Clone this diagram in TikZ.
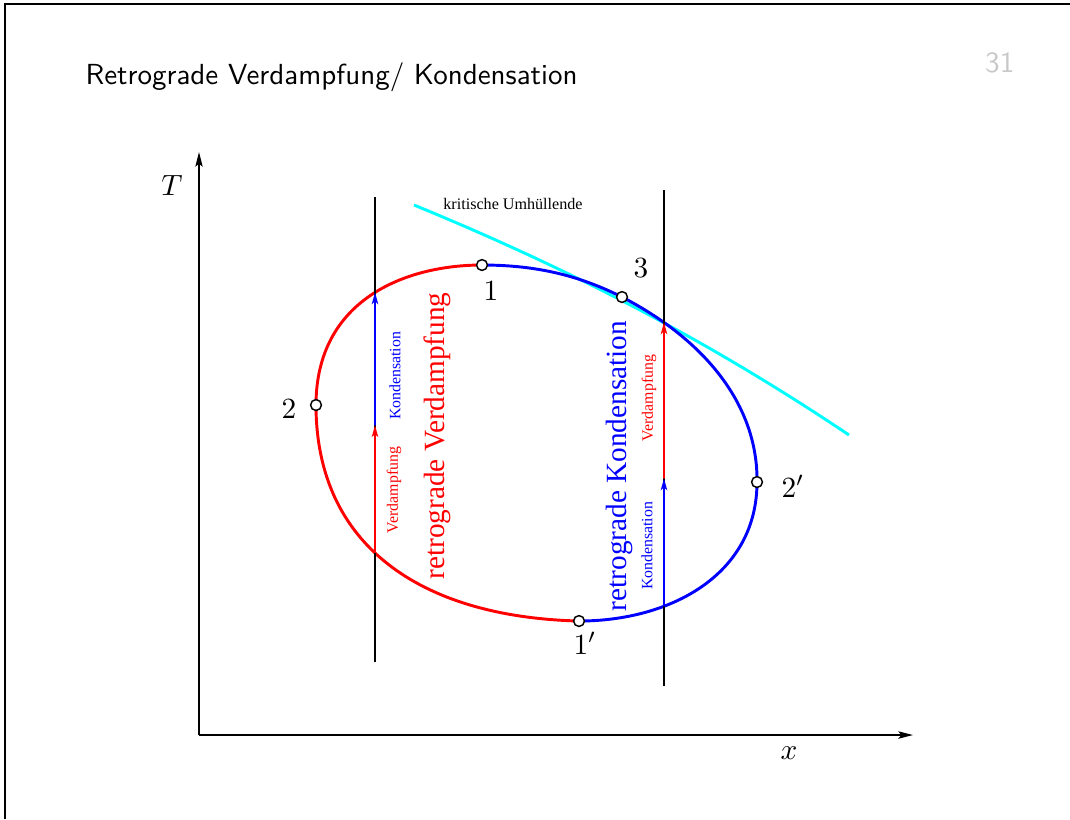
\documentclass[tikz,border=0pt]{standalone}
\usepackage{fontspec}
\newfontfamily\timesfont{Liberation Serif}
\usetikzlibrary{arrows.meta, positioning, calc, intersections, backgrounds}
\definecolor{colLiq} {RGB}{255,0,0}
\definecolor{colVap} {RGB}{0,0,255}
\definecolor{colCrit}{RGB}{0,255,255}
\definecolor{colPage}{RGB}{200,200,200}
\tikzset{
  kpt/.style   = {draw, circle, fill=white, inner sep=0pt, minimum size=1.3mm, line width=0.5pt},
  klab/.style  = {font=\fontsize{10}{12}\selectfont, inner sep=0pt},
  liq/.style   = {draw=colLiq, line width=1pt},
  vap/.style   = {draw=colVap, line width=1pt},
  crit/.style  = {draw=colCrit, line width=1pt},
  iso/.style   = {draw=black, line width=0.4pt},
  axis/.style  = {-{Stealth[length=5pt, width=2.5pt, inset=1pt]}, line width=0.5pt},
  arr/.style   = {-{Stealth[length=4pt, width=2.2pt, inset=1pt]}, line width=0.6pt},
  tsmall/.style= {font=\timesfont\fontsize{5.4}{6}\selectfont, rotate=90, inner sep=0pt},
  tbig/.style  = {font=\timesfont\fontsize{10}{12}\selectfont, rotate=90, inner sep=0pt},
}

\begin{document}
\begin{tikzpicture}[x=0.012cm, y=-0.012cm]
\useasboundingbox (0,0) rectangle (1070,819);

%% ── frame and title ─────────────────────────────────────────────────────────
\draw[line width=0.7pt] (5,819) -- (5,4) -- (1070,4);
\node[anchor=base west, inner sep=0pt, font=\sffamily\fontsize{9.9}{12}\selectfont] (title) at (85,84)
  {Retrograde Verdampfung/ Kondensation};
\node[anchor=base east, inner sep=0pt, text=colPage, font=\sffamily\fontsize{10}{12}\selectfont] (page) at (1015,72)
  {31};

%% ── axes ────────────────────────────────────────────────────────────────────
\coordinate (o)    at (199,735);
\coordinate (ytop) at (199,152);
\coordinate (xend) at (913,735);
\draw[axis] (o) -- (ytop);
\draw[axis] (o) -- (xend);
\node[klab] (lT) at (172,185) {$T$};
\node[klab] (lx) at (789,753) {$x$};

%% ── states on the envelope ──────────────────────────────────────────────────
\node[kpt] (p1)  at (482,265) {};
\node[kpt] (p3)  at (622,297) {};
\node[kpt] (p2)  at (316,405) {};
\node[kpt] (p2s) at (757,482) {};
\node[kpt] (p1s) at (579,621) {};

\node[klab] (l1)  at (491,291) {$1$};
\node[klab] (l3)  at (641,268) {$3$};
\node[klab] (l2)  at (289,409) {$2$};
\node[klab] (l2s) at (793,486) {$2'$};
\node[klab] (l1s) at (585,643) {$1'$};

%% ── vertical lines x = const ────────────────────────────────────────────────
\coordinate (a1) at (375,197);
\coordinate (a2) at (375,662);
\coordinate (b1) at (664,190);
\coordinate (b2) at (664,686);

%% ── critical envelope ───────────────────────────────────────────────────────
\coordinate (c0) at (414,205);
\coordinate (c9) at (849,435);
\node[font=\timesfont\fontsize{5.5}{6}\selectfont, inner sep=0pt] (krit) at (513,204) {kritische Umhüllende};

\begin{pgfonlayer}{background}
  \draw[crit] (c0) .. controls (560,265) and (700,335) .. (c9);
  \draw[liq, name path=liq] (p1.center) .. controls (405,265) and (316,300) .. (p2.center)
    .. controls (316,545) and (420,617) .. (p1s.center);
  \draw[vap, name path=vap] (p1.center) .. controls (540,265) and (582,277) .. (p3.center)
    .. controls (705,340) and (758,405) .. (p2s.center)
    .. controls (757,575) and (670,621) .. (p1s.center);
  \draw[iso, name path=isoA] (a1) -- (a2);
  \draw[iso, name path=isoB] (b1) -- (b2);
  \path[name intersections={of=liq and isoA, sort by=isoA, by={aT,aB}}];
  \path[name intersections={of=vap and isoB, sort by=isoB, by={bT,bB}}];
  \coordinate (aM) at ($(aT)!0.51!(aB)$);
  \coordinate (bM) at ($(bT)!0.55!(bB)$);
  \draw[arr, colLiq] (aB) -- (aM);
  \draw[arr, colVap] (aM) -- (aT);
  \draw[arr, colVap] (bB) -- (bM);
  \draw[arr, colLiq] (bM) -- (bT);
\end{pgfonlayer}

%% ── labels along the arrows ─────────────────────────────────────────────────
\node[tsmall, text=colLiq] (va) at (394,490) {Verdampfung};
\node[tsmall, text=colVap] (ka) at (395,376) {Kondensation};
\node[tbig,   text=colLiq] (rv) at (437,436) {retrograde Verdampfung};
\node[tbig,   text=colVap] (rk) at (619,466) {retrograde Kondensation};
\node[tsmall, text=colVap] (kb) at (647,546) {Kondensation};
\node[tsmall, text=colLiq] (vb) at (649,398) {Verdampfung};

\end{tikzpicture}
\end{document}
